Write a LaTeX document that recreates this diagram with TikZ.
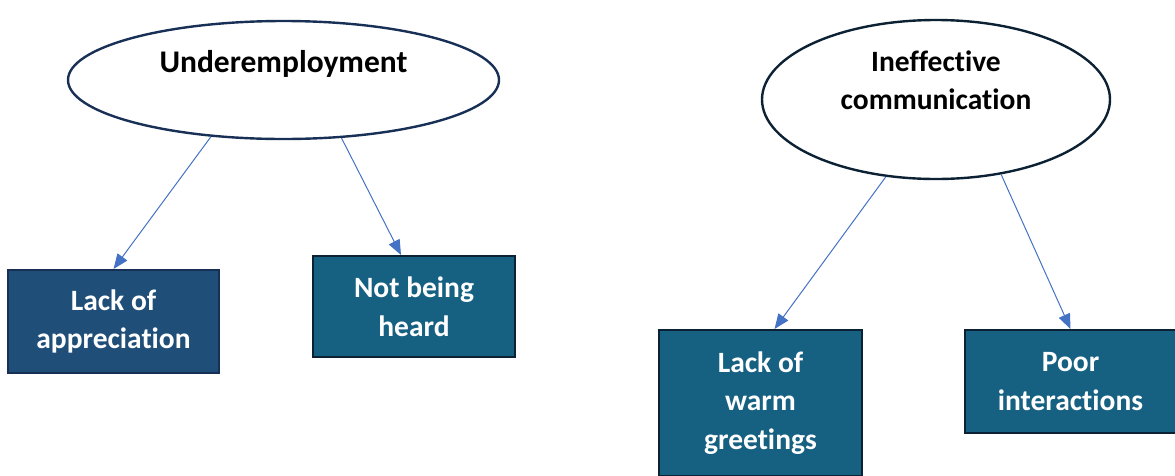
\documentclass[tikz,border=0pt]{standalone}
\usepackage{fontspec}
\setmainfont{Carlito}[Ligatures=NoCommon]
\usetikzlibrary{shapes.geometric,arrows.meta}
\definecolor{navybox}{RGB}{31,78,121}
\definecolor{tealbox}{RGB}{22,96,130}
\definecolor{navyline}{RGB}{24,48,86}
\definecolor{darkline}{RGB}{12,34,52}
\definecolor{arrowblue}{RGB}{68,114,196}
\begin{document}
\begin{tikzpicture}[x=1pt,y=-1pt,
  bubble/.style={ellipse,draw,line width=2.4pt,fill=white,inner sep=0pt,
    align=center},
  causebox/.style={rectangle,draw=darkline,line width=2pt,text=white,inner sep=0pt,
    align=center,font=\fontsize{29.5}{38.5}\selectfont\bfseries},
  link/.style={draw=arrowblue,line width=1pt,-{Triangle[length=15pt,width=12pt]}}]
\useasboundingbox (0,0) rectangle (1175,475);
\clip (0,0) rectangle (1175,475);

% problem bubbles
\node[bubble,draw=navyline,minimum width=431pt,minimum height=118pt,
  font=\fontsize{31.5}{38}\selectfont\bfseries] (e1) at (283.5,80)
  {Underemployment\\\mbox{}};
\node[bubble,draw=darkline,minimum width=348pt,minimum height=159pt,
  font=\fontsize{29.5}{38}\selectfont\bfseries] (e2) at (936,99.5)
  {Ineffective\\communication\\\mbox{}};

% consequence boxes
\node[causebox,fill=navybox,draw=navyline,minimum width=211pt,minimum height=103pt] (b1) at (113.5,321.5)
  {Lack of\\appreciation};
\node[causebox,fill=tealbox,minimum width=202pt,minimum height=101pt] (b2) at (414,306.5)
  {Not being\\heard};
\node[causebox,fill=tealbox,minimum width=203pt,minimum height=146pt] (b3) at (760.5,403)
  {Lack of\\warm\\greetings};
\node[causebox,fill=tealbox,minimum width=211pt,minimum height=103pt] (b4) at (1070.5,381.5)
  {Poor\\interactions};

% connectors
\draw[link] (e1.218.7) -- (b1.north);
\draw[link] (e1.315) -- ([xshift=-13pt]b2.north);
\draw[link] (e2.237.2) -- ([xshift=14pt]b3.north);
\draw[link] (e2.311.1) -- (b4.north);
\end{tikzpicture}
\end{document}
